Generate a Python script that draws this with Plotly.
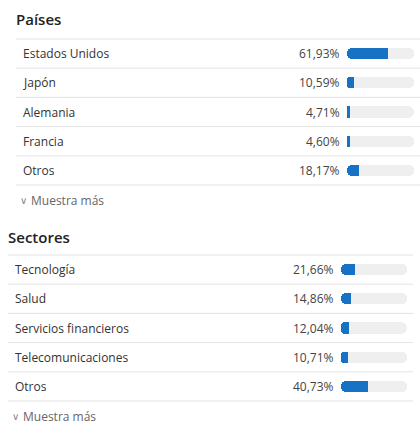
"""Allocation panel: countries and sectors with small progress bars."""

import plotly.graph_objects as go

# --- data ---------------------------------------------------------------
COUNTRIES = ["Estados Unidos", "Japón", "Alemania", "Francia", "Otros"]
COUNTRY_PCT = [61.93, 10.59, 4.71, 4.60, 18.17]

SECTORS = ["Tecnología", "Salud", "Servicios financieros", "Telecomunicaciones", "Otros"]
SECTOR_PCT = [21.66, 14.86, 12.04, 10.71, 40.73]

TITLES = ["Países", "Sectores"]
MORE_LABEL = "Muestra más"

# --- style --------------------------------------------------------------
W, H = 420, 426
BLUE = "#1872c4"
TRACK = "#efefef"
LINE = "#e3e3e3"
TEXT = "#333333"
FONT = "Open Sans, Noto Sans, sans-serif"
BAR_W = 0.39


def px_x(p):
    return p / W


def px_y(p):
    return 1 - p / H


def fmt(v):
    return f"{v:.2f}".replace(".", ",") + "%"


SECTIONS = [
    dict(cats=COUNTRIES, vals=COUNTRY_PCT, title=TITLES[0], xa="x", ya="y",
         left=16, right=420, label_x=21, title_y=19, top=39, bottom=185,
         bar0=347, bar1=414, more_x=18),
    dict(cats=SECTORS, vals=SECTOR_PCT, title=TITLES[1], xa="x2", ya="y2",
         left=8, right=413, label_x=13, title_y=237, top=255, bottom=401,
         bar0=341, bar1=407, more_x=10),
]

fig = go.Figure()
annotations = []
shapes = []
layout_axes = {}

for i, s in enumerate(SECTIONS):
    n = len(s["cats"])
    common = dict(y=s["cats"], orientation="h", xaxis=s["xa"], yaxis=s["ya"],
                  width=BAR_W, hoverinfo="skip", showlegend=False)
    # grey track, two overlapping halves so both ends get rounded
    fig.add_trace(go.Bar(x=[60] * n, base=[40] * n,
                         marker=dict(color=TRACK, cornerradius=6, line_width=0), **common))
    fig.add_trace(go.Bar(x=[-60] * n, base=[60] * n,
                         marker=dict(color=TRACK, cornerradius=6, line_width=0), **common))
    # blue fill: rounded at the left end ...
    fig.add_trace(go.Bar(x=[-v for v in s["vals"]], base=s["vals"],
                         marker=dict(color=BLUE, cornerradius=6, line_width=0), **common))
    # ... and cut square at the value
    fig.add_trace(go.Bar(x=[v / 2 for v in s["vals"]], base=[v / 2 for v in s["vals"]],
                         marker=dict(color=BLUE, line_width=0), **common))

    suffix = "" if i == 0 else str(i + 1)
    layout_axes["xaxis" + suffix] = dict(
        domain=[px_x(s["bar0"]), px_x(s["bar1"])], range=[0, 100],
        visible=False, fixedrange=True, anchor=s["ya"],
    )
    layout_axes["yaxis" + suffix] = dict(
        domain=[px_y(s["bottom"]), px_y(s["top"])], type="category",
        categoryarray=s["cats"], autorange="reversed",
        visible=False, fixedrange=True, anchor=s["xa"],
    )

    # section title
    annotations.append(dict(
        text=s["title"], xref="paper", yref="paper",
        x=px_x(s["left"] - 2), y=px_y(s["title_y"]), xanchor="left", yanchor="middle",
        showarrow=False, font=dict(family=FONT, size=15, color="#222222", weight=600),
    ))

    for cat, val in zip(s["cats"], s["vals"]):
        annotations.append(dict(
            text=cat, xref="paper", yref=s["ya"], x=px_x(s["label_x"]), y=cat,
            xanchor="left", yanchor="middle", showarrow=False,
            font=dict(family=FONT, size=12, color=TEXT),
        ))
        annotations.append(dict(
            text=fmt(val), xref=s["xa"], yref=s["ya"], x=0, y=cat, xshift=-5,
            xanchor="right", yanchor="middle", showarrow=False,
            font=dict(family=FONT, size=12, color="#444444"),
        ))

    # row separators
    ydom = s["ya"] + " domain"
    for k in range(n + 1):
        shapes.append(dict(
            type="line", xref="paper", yref=ydom,
            x0=px_x(s["left"]), x1=px_x(s["right"]), y0=k / n, y1=k / n,
            line=dict(color=LINE, width=1),
        ))

    # "show more" link: chevron + text
    annotations.append(dict(
        text="∨", xref="paper", yref="paper",
        x=px_x(s["more_x"]), y=px_y(s["bottom"] + 15), xanchor="left", yanchor="middle",
        showarrow=False, font=dict(family="DejaVu Sans", size=10, color="#888888"),
    ))
    annotations.append(dict(
        text=MORE_LABEL, xref="paper", yref="paper",
        x=px_x(s["more_x"] + 11), y=px_y(s["bottom"] + 15), xanchor="left", yanchor="middle",
        showarrow=False, font=dict(family=FONT, size=12, color="#666666"),
    ))

fig.update_layout(
    width=W, height=H,
    margin=dict(l=0, r=0, t=0, b=0),
    paper_bgcolor="white", plot_bgcolor="white",
    barmode="overlay", bargap=0,
    annotations=annotations, shapes=shapes,
    **layout_axes,
)

# drop the browser's default body margin so the figure sits at the page corner
fig.write_html("out.html", config={"displayModeBar": False},
               post_script="document.body.style.margin = '0px';")
